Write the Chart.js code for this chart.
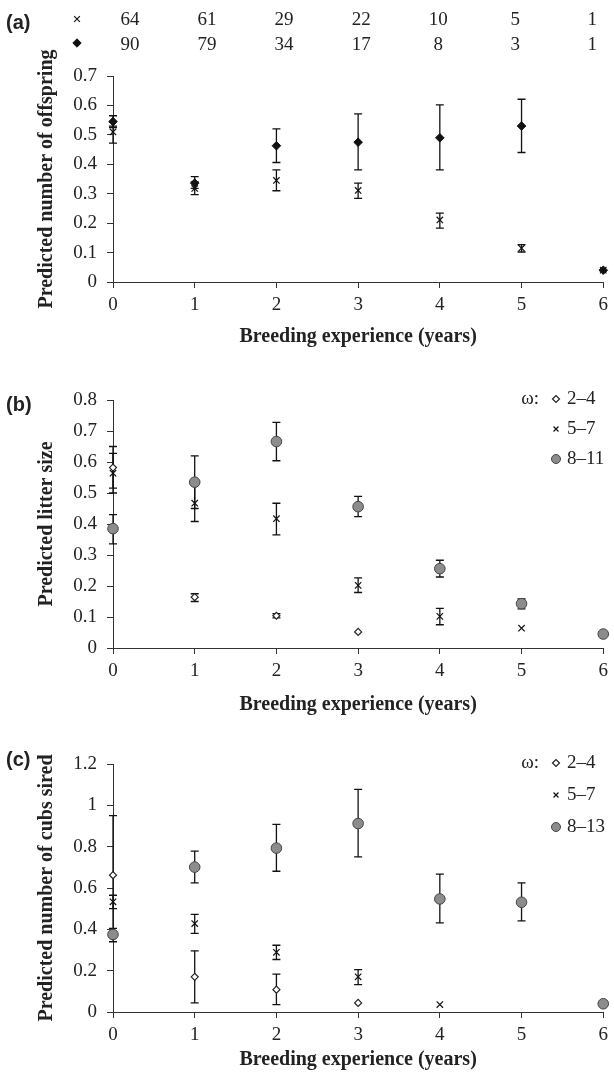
<!DOCTYPE html>
<html><head><meta charset="utf-8">
<script src="https://cdn.jsdelivr.net/npm/chart.js@4.4.1/dist/chart.umd.min.js"></script>
<style>
html,body{margin:0;padding:0;background:#fff;width:614px;height:1074px;overflow:hidden;}
canvas{position:absolute;left:0;}
</style></head><body>
<canvas id="ca" width="614" height="352" style="top:0px"></canvas>
<canvas id="cb" width="614" height="358" style="top:360px"></canvas>
<canvas id="cc" width="614" height="350" style="top:724px"></canvas>
<script>
// ---------- data ----------
const years = [0, 1, 2, 3, 4, 5, 6];
const xLabels = ['0', '1', '2', '3', '4', '5', '6'];
const xTitle = 'Breeding experience (years)';

// panel (a)
const aCrossN = [64, 61, 29, 22, 10, 5, 1];
const aDiamN  = [90, 79, 34, 17, 8, 3, 1];
const aCross   = [0.51, 0.318, 0.345, 0.311, 0.211, 0.115, 0.04];
const aCrossLo = [0.472, 0.297, 0.31, 0.284, 0.183, 0.102, null];
const aCrossHi = [0.53, 0.34, 0.381, 0.336, 0.234, 0.127, null];
const aDiam    = [0.545, 0.336, 0.463, 0.475, 0.49, 0.53, 0.04];
const aDiamLo  = [0.525, 0.318, 0.406, 0.381, 0.381, 0.44, null];
const aDiamHi  = [0.565, 0.358, 0.52, 0.571, 0.602, 0.621, null];
const aYLabels = ['0', '0.1', '0.2', '0.3', '0.4', '0.5', '0.6', '0.7'];

// panel (b)
const bLegend = ['2–4', '5–7', '8–11'];
const bLow    = [0.582, 0.164, 0.104, 0.052, null, null, null];
const bLowLo  = [0.516, 0.15, 0.097, null, null, null, null];
const bLowHi  = [0.65, 0.175, 0.111, null, null, null, null];
const bMid    = [0.564, 0.467, 0.417, 0.202, 0.102, 0.064, null];
const bMidLo  = [0.5, 0.408, 0.365, 0.179, 0.075, null, null];
const bMidHi  = [0.628, 0.525, 0.467, 0.226, 0.128, null, null];
const bHigh   = [0.385, 0.535, 0.666, 0.456, 0.256, 0.143, 0.045];
const bHighLo = [0.336, 0.45, 0.604, 0.424, 0.229, 0.126, null];
const bHighHi = [0.43, 0.62, 0.728, 0.489, 0.283, 0.158, null];
const bYLabels = ['0', '0.1', '0.2', '0.3', '0.4', '0.5', '0.6', '0.7', '0.8'];

// panel (c)
const cLegend = ['2–4', '5–7', '8–13'];
const cLow    = [0.662, 0.17, 0.108, 0.044, null, null, null];
const cLowLo  = [0.37, 0.044, 0.036, null, null, null, null];
const cLowHi  = [0.95, 0.296, 0.183, null, null, null, null];
const cMid    = [0.533, 0.428, 0.289, 0.17, 0.036, null, null];
const cMidLo  = [0.5, 0.38, 0.254, 0.132, null, null, null];
const cMidHi  = [0.565, 0.472, 0.323, 0.205, null, null, null];
const cHigh   = [0.375, 0.701, 0.793, 0.912, 0.547, 0.531, 0.04];
const cHighLo = [0.34, 0.625, 0.681, 0.751, 0.431, 0.441, null];
const cHighHi = [0.405, 0.778, 0.908, 1.077, 0.667, 0.625, null];
const cYLabels = ['0', '0.2', '0.4', '0.6', '0.8', '1', '1.2'];

// ---------- styles ----------
const SERIF = "'Liberation Serif','Times New Roman',serif";
const SANS = "'Liberation Sans',Arial,sans-serif";
const INK = '#222';
const ST = {
  cross:   {pointStyle: 'crossRot', pointRadius: 4.5, borderColor: '#111', backgroundColor: '#111', pointBorderWidth: 1.2},
  diamond: {pointStyle: 'rectRot', pointRadius: 4.3, borderColor: '#111', backgroundColor: '#111', pointBorderWidth: 1},
  open:    {pointStyle: 'rectRot', pointRadius: 3.5, borderColor: '#222', backgroundColor: '#fff', pointBorderWidth: 1.2},
  grey:    {pointStyle: 'circle', pointRadius: 5.3, borderColor: '#444', backgroundColor: '#8c8c8c', pointBorderWidth: 1}
};

function makeDs(label, ys, lo, hi, style) {
  const data = [];
  years.forEach((x, i) => { if (ys[i] !== null) data.push({x: x, y: ys[i], lo: lo[i], hi: hi[i]}); });
  return Object.assign({label: label, data: data, showLine: false, clip: false, pointHoverRadius: 0}, style);
}

const errPlugin = {
  id: 'errbars',
  beforeDatasetsDraw(chart) {
    const ctx = chart.ctx, xs = chart.scales.x, ysc = chart.scales.y;
    ctx.save();
    ctx.strokeStyle = '#111';
    ctx.lineWidth = 1.3;
    chart.data.datasets.forEach(ds => {
      ds.data.forEach(p => {
        if (p.lo == null || p.hi == null) return;
        const px = xs.getPixelForValue(p.x);
        const y1 = ysc.getPixelForValue(p.lo), y2 = ysc.getPixelForValue(p.hi);
        ctx.beginPath();
        ctx.moveTo(px, y1); ctx.lineTo(px, y2);
        ctx.moveTo(px - 4, y1); ctx.lineTo(px + 4, y1);
        ctx.moveTo(px - 4, y2); ctx.lineTo(px + 4, y2);
        ctx.stroke();
      });
    });
    ctx.restore();
  }
};

function tagText(ctx, t, y) {
  ctx.save();
  ctx.font = 'bold 20px ' + SANS;
  ctx.fillStyle = INK;
  ctx.textAlign = 'left';
  ctx.textBaseline = 'middle';
  ctx.fillText(t, 6, y);
  ctx.restore();
}

function marker(ctx, style, x, y) {
  ctx.save();
  ctx.fillStyle = style.backgroundColor;
  ctx.strokeStyle = style.borderColor;
  ctx.lineWidth = style.pointBorderWidth;
  Chart.helpers.drawPoint(ctx, {pointStyle: style.pointStyle, radius: style.pointRadius, borderWidth: style.pointBorderWidth, rotation: 0}, x, y);
  ctx.restore();
}

const headerPlugin = {
  id: 'header',
  afterDraw(chart) {
    const ctx = chart.ctx, ca = chart.chartArea;
    tagText(ctx, '(a)', 23);
    marker(ctx, Object.assign({}, ST.cross, {pointRadius: 4}), 77, 19);
    marker(ctx, Object.assign({}, ST.diamond, {pointRadius: 4.2}), 77, 43);
    ctx.save();
    ctx.font = '19px ' + SERIF;
    ctx.fillStyle = INK;
    ctx.textAlign = 'center';
    ctx.textBaseline = 'middle';
    const x0 = ca.left + 17, x1 = ca.right - 11;
    aCrossN.forEach((n, i) => ctx.fillText(String(n), x0 + (x1 - x0) * i / 6, 20));
    aDiamN.forEach((n, i) => ctx.fillText(String(n), x0 + (x1 - x0) * i / 6, 45));
    ctx.restore();
  }
};

function legendPlugin(tag, tagY, labels, y0, gap) {
  return {
    id: 'leg' + tag,
    afterDraw(chart) {
      const ctx = chart.ctx;
      tagText(ctx, tag, tagY);
      const styles = [ST.open, Object.assign({}, ST.cross, {pointRadius: 3.5}), Object.assign({}, ST.grey, {pointRadius: 4.5})];
      ctx.save();
      ctx.font = '19px ' + SERIF;
      ctx.fillStyle = INK;
      ctx.textBaseline = 'middle';
      ctx.textAlign = 'right';
      ctx.fillText('ω:', 539, y0);
      ctx.restore();
      labels.forEach((lab, i) => {
        const y = y0 + gap * i;
        marker(ctx, styles[i], 556, y);
        ctx.save();
        ctx.font = '19px ' + SERIF;
        ctx.fillStyle = INK;
        ctx.textBaseline = 'middle';
        ctx.textAlign = 'left';
        ctx.fillText(lab, 567, y);
        ctx.restore();
      });
    }
  };
}

function build(id, cfg) {
  return new Chart(document.getElementById(id), {
    type: 'scatter',
    data: {datasets: cfg.datasets},
    options: {
      responsive: false, animation: false, events: [],
      layout: {padding: {top: cfg.padTop, right: 9, left: 0, bottom: 0}},
      plugins: {legend: {display: false}, tooltip: {enabled: false}},
      scales: {
        x: {
          type: 'linear', min: 0, max: 6,
          ticks: {stepSize: 1, callback: (v, i) => xLabels[i], font: {family: SERIF, size: 19}, color: INK, padding: 6, maxRotation: 0},
          grid: {drawOnChartArea: false, tickLength: 6, color: '#333', lineWidth: 1},
          border: {color: '#333', width: 1},
          title: {display: true, text: xTitle, font: {family: SERIF, size: 20, weight: 'bold'}, color: INK, padding: {top: 0, bottom: cfg.titlePadB}},
          afterFit(s) { s.height = cfg.xH; }
        },
        y: {
          min: 0, max: cfg.ymax,
          ticks: {stepSize: cfg.step, callback: (v, i) => cfg.yLabels[i], font: {family: SERIF, size: 19}, color: INK, padding: 10},
          grid: {drawOnChartArea: false, tickLength: 6, color: '#333', lineWidth: 1},
          border: {color: '#333', width: 1},
          title: {display: true, text: cfg.yTitle, font: {family: SERIF, size: 20, weight: 'bold'}, color: INK, padding: {top: 35, bottom: 0}},
          afterFit(s) { s.width = 113; }
        }
      }
    },
    plugins: [errPlugin, cfg.extra]
  });
}

build('ca', {
  datasets: [
    makeDs('×', aCross, aCrossLo, aCrossHi, ST.cross),
    makeDs('◆', aDiam, aDiamLo, aDiamHi, ST.diamond)
  ],
  padTop: 76, xH: 70, titlePadB: 3, ymax: 0.7, step: 0.1, yLabels: aYLabels,
  yTitle: 'Predicted number of offspring', extra: headerPlugin
});

build('cb', {
  datasets: [
    makeDs(bLegend[2], bHigh, bHighLo, bHighHi, ST.grey),
    makeDs(bLegend[1], bMid, bMidLo, bMidHi, ST.cross),
    makeDs(bLegend[0], bLow, bLowLo, bLowHi, ST.open)
  ],
  padTop: 40, xH: 70, titlePadB: 1, ymax: 0.8, step: 0.1, yLabels: bYLabels,
  yTitle: 'Predicted litter size', extra: legendPlugin('(b)', 45, bLegend, 39, 30)
});

build('cc', {
  datasets: [
    makeDs(cLegend[2], cHigh, cHighLo, cHighHi, ST.grey),
    makeDs(cLegend[1], cMid, cMidLo, cMidHi, ST.cross),
    makeDs(cLegend[0], cLow, cLowLo, cLowHi, ST.open)
  ],
  padTop: 40, xH: 62, titlePadB: 2, ymax: 1.2, step: 0.2, yLabels: cYLabels,
  yTitle: 'Predicted number of cubs sired', extra: legendPlugin('(c)', 36, cLegend, 39, 32)
});
</script>
</body></html>
